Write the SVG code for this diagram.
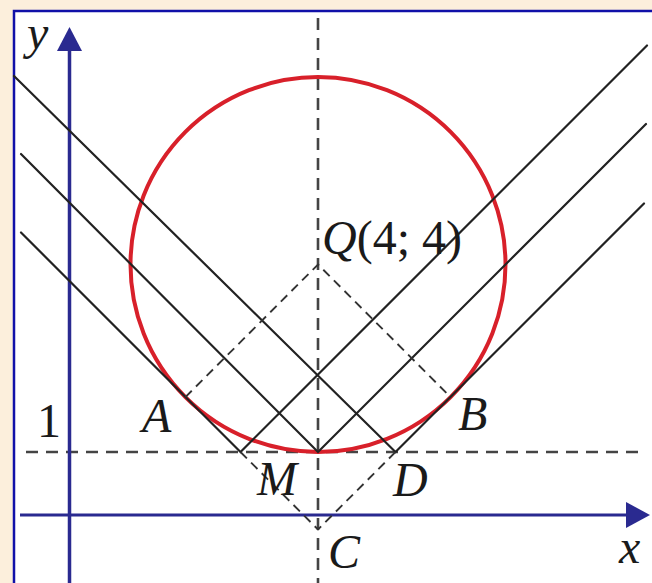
<svg xmlns="http://www.w3.org/2000/svg" width="652" height="583" viewBox="0 0 652 583">
<style>
.lbl{font-family:"Liberation Serif","Times New Roman",serif;font-size:48px;fill:#1a1a1a}
.it{font-style:italic}
.ln{stroke:#222;stroke-width:2.2;fill:none;stroke-linecap:round}
.dk{stroke:#444;stroke-width:2.6;stroke-dasharray:12 8;fill:none}
.dt{stroke:#333;stroke-width:1.9;stroke-dasharray:9 6;fill:none}
.ax{stroke:#2a2a90;fill:none}
</style>
<rect x="0" y="0" width="652" height="583" fill="#fcefdc"/>
<rect x="14" y="11" width="700" height="700" fill="#ffffff" stroke="#1010a8" stroke-width="2.5"/>
<g id="guides">
<line class="dk" x1="318" y1="18" x2="318" y2="583"/>
<line class="dk" x1="26" y1="452" x2="642" y2="452"/>
</g>
<g id="axes">
<line class="ax" x1="69.5" y1="583" x2="69.5" y2="50" stroke-width="3.5"/>
<polygon points="69.5,27 57,51 82,51" fill="#2a2a90"/>
<line class="ax" x1="20" y1="515" x2="628" y2="515" stroke-width="3"/>
<polygon points="650,515 626,502 626,528" fill="#2a2a90"/>
</g>
<g id="circle">
<circle cx="318" cy="264.5" r="187.5" fill="none" stroke="#d8202a" stroke-width="4"/>
</g>
<g id="connectors">
<polyline class="ln" points="21,232.5 240.5,452 647,45.5"/>
<polyline class="ln" points="21,154 318,452 646,124"/>
<polyline class="ln" points="14,76 395.5,452 644,203.5"/>
<polyline class="dt" points="185.4,397.1 318,264.5 450.6,397.1"/>
<polyline class="dt" points="240.5,452 318,529.5 395.5,452"/>
</g>
<g id="labels">
<text class="lbl it" x="27" y="49">y</text>
<text class="lbl it" x="619" y="563">x</text>
<text class="lbl" x="49" y="437" text-anchor="middle">1</text>
<text class="lbl it" x="142" y="432">A</text>
<text class="lbl it" x="458" y="430">B</text>
<text class="lbl it" x="257" y="495">M</text>
<text class="lbl it" x="393" y="496">D</text>
<text class="lbl it" x="328" y="568">C</text>
<text class="lbl" x="322" y="254"><tspan class="it">Q</tspan>(4; 4)</text>
</g>
</svg>
